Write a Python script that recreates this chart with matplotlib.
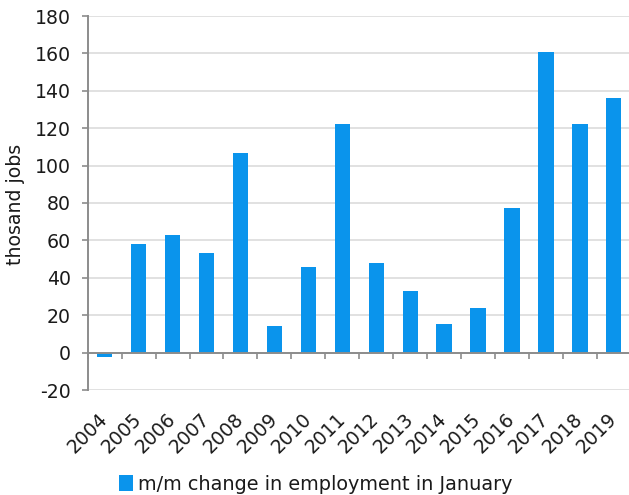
import matplotlib
matplotlib.use("Agg")
import matplotlib.pyplot as plt
from matplotlib.patches import Patch
import numpy as np

years = ["2004", "2005", "2006", "2007", "2008", "2009", "2010", "2011",
         "2012", "2013", "2014", "2015", "2016", "2017", "2018", "2019"]
jobs_change = [-2.5, 58, 63, 53, 107, 14, 46, 122,
               48, 33, 15.5, 24, 77.5, 161, 122, 136]
y_ticks = [-20, 0, 20, 40, 60, 80, 100, 120, 140, 160, 180]
series_label = "m/m change in employment in January"
y_label = "thosand jobs"

bar_color = "#0A94EC"
axis_color = "#8C8C8C"
grid_color = "#DCDCDC"
text_color = "#1A1A1A"
fs = 13.6

plt.rcParams["font.family"] = ["DejaVu Sans"]

W, H = 629, 495
fig = plt.figure(figsize=(W / 100, H / 100), dpi=100)
left_px, right_px, top_px, bottom_px = 87.7, 630.8, 16.0, 390.0
ax = fig.add_axes([left_px / W, 1 - bottom_px / H,
                   (right_px - left_px) / W, (bottom_px - top_px) / H])

x = np.arange(len(years))
ax.bar(x, jobs_change, width=0.45, color=bar_color, zorder=3)

ax.set_xlim(-0.5, len(years) - 0.5)
ax.set_ylim(y_ticks[0], y_ticks[-1])
ax.set_yticks(y_ticks)
ax.set_yticklabels([str(v) for v in y_ticks])
ax.yaxis.grid(True, color=grid_color, linewidth=1.2, zorder=0)
ax.set_axisbelow(True)

for s in ["top", "right"]:
    ax.spines[s].set_visible(False)
ax.spines["left"].set_color(axis_color)
ax.spines["left"].set_linewidth(1.4)
ax.spines["bottom"].set_position(("data", 0))
ax.spines["bottom"].set_color(axis_color)
ax.spines["bottom"].set_linewidth(1.4)
ax.spines["bottom"].set_zorder(4)

# category boundary ticks hang below the zero line
ax.set_xticks(np.arange(len(years) + 1) - 0.5, minor=False)
ax.set_xticklabels([])
ax.tick_params(axis="x", which="major", direction="out", length=4.5,
               width=1.2, color=axis_color)
ax.tick_params(axis="y", which="major", direction="out", length=4.5,
               width=1.2, color=axis_color, labelsize=fs, labelcolor=text_color,
               pad=7.5)

# year labels rotated under the plot area
for xi, yr in zip(x, years):
    ax.text(xi - 0.2, -30.5, yr, rotation=45, ha="right", va="top",
            rotation_mode="anchor", fontsize=fs, color=text_color,
            transform=ax.transData, clip_on=False)

fig.text(16 / W, 1 - 204 / H, y_label, rotation=90, ha="center", va="center",
         fontsize=fs, color=text_color)

handle = Patch(facecolor=bar_color, edgecolor="none")
fig.legend([handle], [series_label], loc="center",
           bbox_to_anchor=(316 / W, 1 - 484 / H), frameon=False,
           fontsize=13.9, handlelength=0.7, handleheight=0.85,
           handletextpad=0.3, labelcolor=text_color)

fig.savefig("out.png", dpi=100)
